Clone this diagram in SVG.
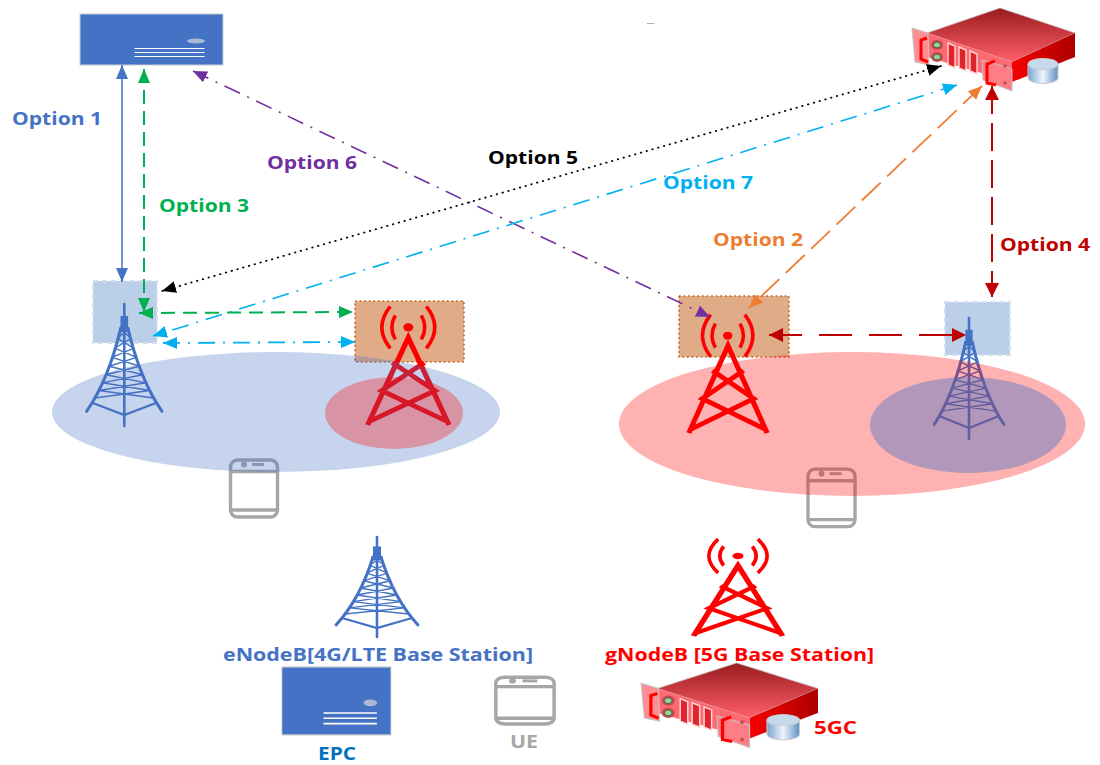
<svg xmlns="http://www.w3.org/2000/svg" xmlns:xlink="http://www.w3.org/1999/xlink" width="1100" height="765" viewBox="0 0 1100 765">
<style>
text{font-family:"Open Sans","Liberation Sans",sans-serif;font-weight:700;font-size:18px}
.blue-box{fill:#bbcfe9;stroke:#d3dfef;stroke-width:2;stroke-dasharray:5 4}
.orange-box{fill:#e0ac88;stroke:#c55a11;stroke-width:1.6;stroke-dasharray:1.6 3}
.tw path,.tw rect{vector-effect:non-scaling-stroke}
.tw{fill:none;stroke:#4472c4;stroke-linecap:round}
.rt{fill:none;stroke:#f00;stroke-width:5;stroke-linejoin:miter}
.rt path{vector-effect:non-scaling-stroke}
.wv{fill:none;stroke:#f00;stroke-width:3.6}
.wv path{vector-effect:non-scaling-stroke}
.ph{fill:none;stroke:#a6a6a6;stroke-width:3.4}
.ph rect,.ph path,.ph circle{vector-effect:non-scaling-stroke}
.c{fill:none}
</style>
<defs>
<linearGradient id="gTop" x1="0" y1="0" x2="0" y2="1"><stop offset="0" stop-color="#991b1e"/><stop offset="1" stop-color="#ff5f68"/></linearGradient>
<linearGradient id="gRight" x1="0" y1="0" x2="1" y2="0"><stop offset="0" stop-color="#f60000"/><stop offset="1" stop-color="#ac0000"/></linearGradient>
<linearGradient id="gCyl" x1="0" y1="0" x2="1" y2="0"><stop offset="0" stop-color="#7ba3cd"/><stop offset=".5" stop-color="#eef5fb"/><stop offset="1" stop-color="#5f90c2"/></linearGradient>
<marker id="aBlue" viewBox="0 0 14 12" refX="14" refY="6" markerWidth="14" markerHeight="12" markerUnits="userSpaceOnUse" orient="auto-start-reverse"><path d="M0 0L14 6L0 12Z" fill="#4472c4"/></marker>
<marker id="aGreen" viewBox="0 0 14 12" refX="14" refY="6" markerWidth="14" markerHeight="12" markerUnits="userSpaceOnUse" orient="auto-start-reverse"><path d="M0 0L14 6L0 12Z" fill="#00b050"/></marker>
<marker id="aPurple" viewBox="0 0 14 12" refX="14" refY="6" markerWidth="14" markerHeight="12" markerUnits="userSpaceOnUse" orient="auto-start-reverse"><path d="M0 0L14 6L0 12Z" fill="#7030a0"/></marker>
<marker id="aCyan" viewBox="0 0 14 12" refX="14" refY="6" markerWidth="14" markerHeight="12" markerUnits="userSpaceOnUse" orient="auto-start-reverse"><path d="M0 0L14 6L0 12Z" fill="#00b0f0"/></marker>
<marker id="aBlack" viewBox="0 0 14 12" refX="14" refY="6" markerWidth="14" markerHeight="12" markerUnits="userSpaceOnUse" orient="auto-start-reverse"><path d="M0 0L14 6L0 12Z" fill="#000"/></marker>
<marker id="aOrange" viewBox="0 0 14 12" refX="14" refY="6" markerWidth="14" markerHeight="12" markerUnits="userSpaceOnUse" orient="auto-start-reverse"><path d="M0 0L14 6L0 12Z" fill="#ed7d31"/></marker>
<marker id="aRed" viewBox="0 0 14 14" refX="14" refY="7" markerWidth="14" markerHeight="14" markerUnits="userSpaceOnUse" orient="auto-start-reverse"><path d="M0 0L14 7L0 14Z" fill="#c00000"/></marker>

<g id="tower" class="tw">
<path stroke-width="2.6" d="M0 0V100"/>
<path stroke-width="3" fill="#4472c4" d="M-2.5 11H2.5V22H-2.5Z"/>
<path stroke-width="3" d="M-4 20Q-17 62-41 88M4 20Q17 62 41 88"/>
<path stroke-width="1.4" d="M-5 20L7.5 28.2M5 20L-7.5 28.2M-7.5 28.2L10.3 36.2M7.5 28.2L-10.3 36.2M-10.3 36.2L13.3 43.8M10.3 36.2L-13.3 43.8M-13.3 43.8L16.5 51M13.3 43.8L-16.5 51M-16.5 51L20 58M16.5 51L-20 58M-20 58L23.7 64.6M20 58L-23.7 64.6M-23.7 64.6L27.7 70.9M23.7 64.6L-27.7 70.9M-27.7 70.9L31.9 77M27.7 70.9L-31.9 77"/>
<path stroke-width="2.2" d="M-35 81L0 91L35 81"/>
</g>
<path id="rtower" class="rt" d="M-38 100L0 6L38 100M-15 33L25 63L-36 96M15 33L-25 63L36 96"/>
<g id="waves" class="wv">
<ellipse cx="0" cy="0" rx="5" ry="4" fill="#f00" stroke="none"/>
<path d="M-13 -12Q-20 0-13 12M13 -12Q20 0 13 12M-18 -21Q-35 0-18 21M18 -21Q35 0 18 21"/>
</g>
<g id="epc">
<rect x="80" y="14" width="143" height="51" fill="#4472c4" stroke="#c8ccd4" stroke-width="1"/>
<ellipse cx="196" cy="41" rx="9" ry="2.5" fill="#aab8d6"/>
<path d="M134.500 48.500H204.500M134.500 52.500H204.500M134.500 56.500H204.500" stroke="#fff" stroke-width="1.2" fill="none"/>
</g>
<g id="phone" class="ph">
<rect x="230.500" y="460" width="47" height="57" rx="7"/>
<path d="M230.500 471.500H277.500M230.500 510H277.500"/>
<circle cx="244" cy="464.500" r="1.500" stroke-width="3" fill="#a6a6a6"/>
<path d="M252 464.500H264" stroke-width="3"/>
</g>
<g id="server">
<path d="M927 33L1000 8L1075 33L1012 62Z" fill="url(#gTop)" stroke="#c9b8b8" stroke-width=".8"/>
<path d="M1012 62L1075 33V57L1012 82Z" fill="url(#gRight)"/>
<path d="M927 33L1012 62V82L927 57Z" fill="#ff6a72"/>
<path d="M912 28L928 33L929 65L915 62Z" fill="#ff8e94" stroke="#c4c4c4" stroke-width="1"/>
<path d="M927 38L921 40V59L928 62" fill="none" stroke="#f00" stroke-width="3"/>
<ellipse cx="937" cy="45" rx="6" ry="5" fill="#c54a50"/><ellipse cx="937" cy="45" rx="3.500" ry="2.800" fill="#9ad49a" stroke="#2f5f35" stroke-width=".8"/>
<ellipse cx="937" cy="57" rx="6" ry="5" fill="#c54a50"/><ellipse cx="937" cy="57" rx="3.500" ry="2.800" fill="#9ad49a" stroke="#2f5f35" stroke-width=".8"/>
<path d="M948 43L955 46V68L948 65ZM959 47L966 50V71L959 68ZM970 51L977 54V74L970 71Z" fill="#e0242c" stroke="#ffd5d5" stroke-width="1.400"/>
<path d="M982 60L1012 69V91L983 80Z" fill="#ff7d84" stroke="#c4c4c4" stroke-width="1"/>
<path d="M995 61L987 64V83L996 85" fill="none" stroke="#f00" stroke-width="3"/>
<circle cx="1005" cy="66" r="1.800" fill="#bb5055"/><circle cx="1005" cy="83" r="1.800" fill="#bb5055"/>
<path d="M1028 64V78A15 5.500 0 0 0 1058 78V64Z" fill="url(#gCyl)" stroke="#c9cdd2" stroke-width="1"/>
<ellipse cx="1043" cy="64" rx="15" ry="5.500" fill="#c6d9ec" stroke="#c9cdd2" stroke-width="1"/>
</g>
</defs>

<rect width="1100" height="765" fill="#fff"/>
<path d="M647 23.500H654" stroke="#b0b0b0" stroke-width="1"/>

<g id="node-lte-box"><rect class="blue-box" x="93" y="281" width="64" height="62"/></g>
<g id="node-nr-box-left"><rect class="orange-box" x="355" y="301" width="109" height="61"/></g>
<g id="node-nr-box-right"><rect class="orange-box" x="679" y="296" width="110" height="61"/></g>
<g id="node-lte-box-right"><rect class="blue-box" x="945" y="302" width="65" height="53"/></g>

<g id="node-enb-left"><use href="#tower" transform="translate(124.300 304) scale(.92 1.22)"/></g>
<g id="node-gnb-left"><use href="#rtower" transform="translate(408.300 332) scale(1.07 .93)"/><use href="#waves" transform="translate(408.300 327.300)"/></g>
<g id="node-gnb-right"><use href="#rtower" transform="translate(728 340) scale(1.03 .93)"/><use href="#waves" transform="translate(727.700 335.700) scale(.95 1)"/></g>
<g id="node-enb-right"><use href="#tower" transform="translate(969 318) scale(.85 1.21)"/></g>
<g id="node-ue-left"><use href="#phone"/></g>
<g id="node-ue-right"><use href="#phone" transform="translate(577.500 4.500) scale(1 1.01)"/></g>

<g id="cell-lte"><ellipse cx="276" cy="412" rx="224" ry="60" fill="#4472c4" opacity=".3"/></g>
<g id="cell-nr-small"><ellipse cx="394" cy="413" rx="69" ry="36" fill="#f00" opacity=".3"/></g>
<g id="cell-nr"><ellipse cx="852" cy="424" rx="233" ry="72" fill="#f00" opacity=".3"/></g>
<g id="cell-lte-small"><ellipse cx="968" cy="425" rx="98" ry="48" fill="#4472c4" opacity=".42"/></g>

<g id="node-epc"><use href="#epc"/></g>
<g id="node-5gc"><use href="#server"/></g>

<g id="connectors" class="c">
<path d="M122 65V282" stroke="#4472c4" stroke-width="1.500" marker-start="url(#aBlue)" marker-end="url(#aBlue)"/>
<path d="M144 69V312" stroke="#00b050" stroke-width="2" stroke-dasharray="14 7" marker-start="url(#aGreen)" marker-end="url(#aGreen)"/>
<path d="M139 313L353 312" stroke="#00b050" stroke-width="2" stroke-dasharray="14 8" marker-start="url(#aGreen)" marker-end="url(#aGreen)"/>
<path d="M193 71L710 317" stroke="#7030a0" stroke-width="1.600" stroke-dasharray="17 8 2 8" marker-start="url(#aPurple)" marker-end="url(#aPurple)"/>
<path d="M941 66L162 291" stroke="#000" stroke-width="1.800" stroke-linecap="round" stroke-dasharray=".5 5.500" marker-start="url(#aBlack)" marker-end="url(#aBlack)"/>
<path d="M957 85L153 336" stroke="#00b0f0" stroke-width="1.600" stroke-dasharray="17 8 2 8" marker-start="url(#aCyan)" marker-end="url(#aCyan)"/>
<path d="M163 343L355 342" stroke="#00b0f0" stroke-width="1.800" stroke-dasharray="17 8 2 8" marker-start="url(#aCyan)" marker-end="url(#aCyan)"/>
<path d="M982 86L749 308" stroke="#ed7d31" stroke-width="1.800" stroke-dasharray="26 9" marker-start="url(#aOrange)" marker-end="url(#aOrange)"/>
<path d="M992 86V297" stroke="#c00000" stroke-width="2" stroke-dasharray="28 9" marker-start="url(#aRed)" marker-end="url(#aRed)"/>
<path d="M769 335H966" stroke="#c00000" stroke-width="2" stroke-dasharray="33 17" marker-start="url(#aRed)" marker-end="url(#aRed)"/>
</g>

<g id="labels">
<text x="12" y="125" fill="#4472c4" textLength="90" lengthAdjust="spacingAndGlyphs">Option 1</text>
<text x="267" y="169" fill="#7030a0" textLength="90" lengthAdjust="spacingAndGlyphs">Option 6</text>
<text x="488" y="164" fill="#000" textLength="90" lengthAdjust="spacingAndGlyphs">Option 5</text>
<text x="663" y="189" fill="#00b0f0" textLength="90" lengthAdjust="spacingAndGlyphs">Option 7</text>
<text x="159" y="212" fill="#00b050" textLength="90" lengthAdjust="spacingAndGlyphs">Option 3</text>
<text x="713" y="246" fill="#ed7d31" textLength="90" lengthAdjust="spacingAndGlyphs">Option 2</text>
<text x="1000" y="251" fill="#c00000" textLength="90" lengthAdjust="spacingAndGlyphs">Option 4</text>
</g>

<g id="legend-enb"><use href="#tower" transform="translate(377 537)"/>
<text x="223" y="661" fill="#4472c4" textLength="310" lengthAdjust="spacingAndGlyphs">eNodeB[4G/LTE Base Station]</text></g>
<g id="legend-gnb"><use href="#rtower" transform="translate(738 561) scale(1.17 .75)"/><use href="#waves" transform="translate(738 556) scale(1.1 .8)"/>
<text x="605" y="661" fill="#f00" textLength="269" lengthAdjust="spacingAndGlyphs">gNodeB [5G Base Station]</text></g>
<g id="legend-epc"><use href="#epc" transform="translate(221 648.300) scale(.762 1.333)"/>
<text x="318" y="760" fill="#0070c0" textLength="38" lengthAdjust="spacingAndGlyphs">EPC</text></g>
<g id="legend-ue"><use href="#phone" transform="translate(210 300) scale(1.24 .82)" /><text x="510" y="748" fill="#a6a6a6" textLength="28" lengthAdjust="spacingAndGlyphs">UE</text></g>
<g id="legend-5gc"><use href="#server" transform="translate(-348.400 654.800) scale(1.085 1.02)"/>
<text x="814" y="734" fill="#f00" textLength="43" lengthAdjust="spacingAndGlyphs">5GC</text></g>
</svg>
